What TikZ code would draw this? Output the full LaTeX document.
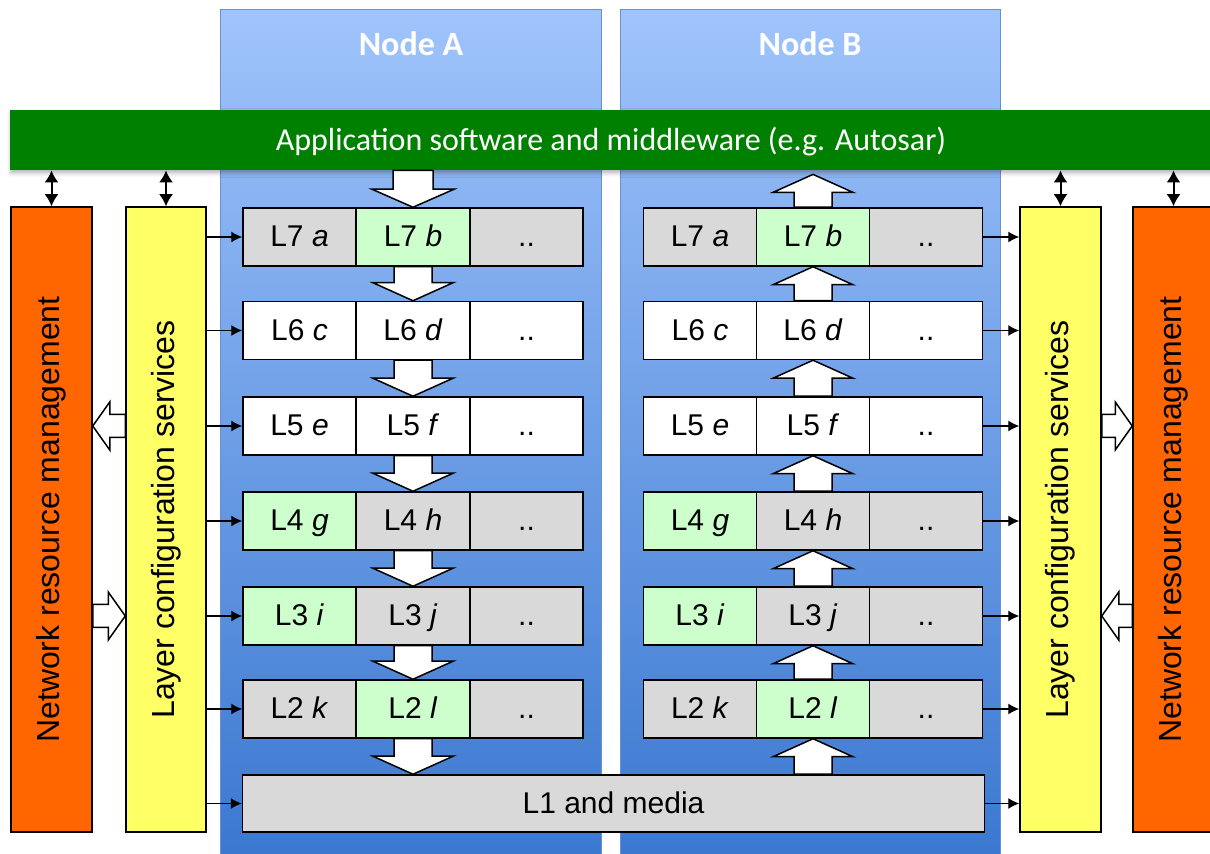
\documentclass[tikz,border=0pt]{standalone}
\usepackage{fontspec}
\setmainfont{Liberation Sans}
\newfontfamily\carlito{Carlito}
\usepackage{graphicx}
\usepackage{tikz}
\usetikzlibrary{calc,arrows.meta,shadows.blur}

\definecolor{panelTop}{RGB}{160,196,252}
\definecolor{panelBot}{RGB}{58,120,208}
\definecolor{panelEdge}{RGB}{105,145,210}
\definecolor{appGreen}{RGB}{0,128,0}
\definecolor{nrmOrange}{RGB}{255,102,0}
\definecolor{lcsYellow}{RGB}{255,255,102}
\definecolor{cellGrey}{RGB}{217,217,217}
\definecolor{cellGreen}{RGB}{204,255,204}

% hollow block arrow: start, tip, shaft half width, head half width, head length
\newcommand{\blockarrow}[5]{%
  \coordinate (ba-s) at (#1);
  \coordinate (ba-t) at (#2);
  \coordinate (ba-h) at ($(ba-t)!#5!(ba-s)$);
  \draw[blockarr] ($(ba-s)!#3!90:(ba-t)$) -- ($(ba-h)!#3!90:(ba-t)$) -- ($(ba-h)!#4!90:(ba-t)$)
    -- (ba-t) -- ($(ba-h)!#4!-90:(ba-t)$) -- ($(ba-h)!#3!-90:(ba-t)$) -- ($(ba-s)!#3!-90:(ba-t)$) -- cycle;
}

\begin{document}
\begin{tikzpicture}[x=0.5pt,y=-0.5pt]
\tikzstyle{panel}=[draw=panelEdge,line width=0.5pt,top color=panelTop,bottom color=panelBot,minimum height=424pt,inner sep=0pt]
\tikzstyle{cell}=[draw=black,line width=0.75pt,minimum width=56.5pt,minimum height=29pt,inner sep=0pt,text height=11pt,text depth=1pt,font=\fontsize{15}{18}\selectfont]
\tikzstyle{greycell}=[cell,fill=cellGrey]
\tikzstyle{greencell}=[cell,fill=cellGreen]
\tikzstyle{whitecell}=[cell,fill=white]
\tikzstyle{sidebox}=[draw=black,line width=0.75pt,minimum width=40.5pt,minimum height=312.5pt,inner sep=0pt,font=\fontsize{16}{19}\selectfont]
\tikzstyle{blockarr}=[draw=black,fill=white,line width=0.75pt,line join=miter]
\tikzstyle{sarr}=[->,>={Latex[length=5.5pt,width=5.5pt]},line width=0.6pt]
\tikzstyle{dblarr}=[<->,>={Latex[length=6pt,width=7pt]},line width=1pt]
\useasboundingbox (0,0) rectangle (1210,854);

% Node panels
\node (NA) [panel,minimum width=190.5pt] at (410.5,434) {};
\node (NB) [panel,minimum width=190pt] at (810,434) {};
\node (NAtitle) at (411,44) {\carlito\bfseries\fontsize{17}{20}\selectfont\color{white}Node A};
\node (NBtitle) at (810,44) {\carlito\bfseries\fontsize{17}{20}\selectfont\color{white}Node B};

% Application bar
\node (app) [fill=appGreen,minimum width=601pt,minimum height=30pt,inner sep=0pt,text height=11pt,text depth=0pt,
  blur shadow={shadow xshift=0.5pt,shadow yshift=-1.5pt,shadow opacity=30,shadow blur steps=5}]
  at (611,140) {\carlito\fontsize{16}{19}\selectfont\color{white}Application software and middleware (e.g. Autosar)};

% Side boxes
\node (NRML) [sidebox,fill=nrmOrange] at (51.5,519.5) {\rotatebox{90}{Network resource management}};
\node (LCSL) [sidebox,fill=lcsYellow,minimum width=40pt] at (166,519.5) {\rotatebox{90}{Layer configuration services}};
\node (LCSR) [sidebox,fill=lcsYellow] at (1060.5,519.5) {\rotatebox{90}{Layer configuration services}};
\node (NRMR) [sidebox,fill=nrmOrange] at (1173.5,519.5) {\rotatebox{90}{Network resource management}};

% Node A layers
\node (NAL7a) [greycell] at (299.5,237) {L7 \textit{a}};
\node (NAL7b) [greencell] at (413,237) {L7 \textit{b}};
\node (NAL7c) [greycell] at (526.5,237) {..};
\node (NAL6a) [whitecell] at (299.5,330.5) {L6 \textit{c}};
\node (NAL6b) [whitecell] at (413,330.5) {L6 \textit{d}};
\node (NAL6c) [whitecell] at (526.5,330.5) {..};
\node (NAL5a) [whitecell] at (299.5,426) {L5 \textit{e}};
\node (NAL5b) [whitecell] at (413,426) {L5 \textit{f}};
\node (NAL5c) [whitecell] at (526.5,426) {..};
\node (NAL4a) [greencell] at (299.5,521) {L4 \textit{g}};
\node (NAL4b) [greycell] at (413,521) {L4 \textit{h}};
\node (NAL4c) [greycell] at (526.5,521) {..};
\node (NAL3a) [greencell] at (299.5,616) {L3 \textit{i}};
\node (NAL3b) [greycell] at (413,616) {L3 \textit{j}};
\node (NAL3c) [greycell] at (526.5,616) {..};
\node (NAL2a) [greycell] at (299.5,709) {L2 \textit{k}};
\node (NAL2b) [greencell] at (413,709) {L2 \textit{l}};
\node (NAL2c) [greycell] at (526.5,709) {..};

% Node B layers
\node (NBL7a) [greycell] at (700,237) {L7 \textit{a}};
\node (NBL7b) [greencell] at (813,237) {L7 \textit{b}};
\node (NBL7c) [greycell] at (926,237) {..};
\node (NBL6a) [whitecell] at (700,330.5) {L6 \textit{c}};
\node (NBL6b) [whitecell] at (813,330.5) {L6 \textit{d}};
\node (NBL6c) [whitecell] at (926,330.5) {..};
\node (NBL5a) [whitecell] at (700,426) {L5 \textit{e}};
\node (NBL5b) [whitecell] at (813,426) {L5 \textit{f}};
\node (NBL5c) [whitecell] at (926,426) {..};
\node (NBL4a) [greencell] at (700,521) {L4 \textit{g}};
\node (NBL4b) [greycell] at (813,521) {L4 \textit{h}};
\node (NBL4c) [greycell] at (926,521) {..};
\node (NBL3a) [greencell] at (700,616) {L3 \textit{i}};
\node (NBL3b) [greycell] at (813,616) {L3 \textit{j}};
\node (NBL3c) [greycell] at (926,616) {..};
\node (NBL2a) [greycell] at (700,709) {L2 \textit{k}};
\node (NBL2b) [greencell] at (813,709) {L2 \textit{l}};
\node (NBL2c) [greycell] at (926,709) {..};

% Shared physical layer
\node (L1) [greycell,minimum width=371pt,minimum height=28.5pt] at (613.5,803.5) {L1 and media};

% Data flow down Node A, up Node B
\blockarrow{app.south -| NAL7b}{NAL7b.north}{10pt}{20.5pt}{9pt}
\blockarrow{NAL7b.south}{NAL6b.north}{9.5pt}{20pt}{9pt}
\blockarrow{NAL6b.south}{NAL5b.north}{9.5pt}{20pt}{9pt}
\blockarrow{NAL5b.south}{NAL4b.north}{9.5pt}{20pt}{9pt}
\blockarrow{NAL4b.south}{NAL3b.north}{9.5pt}{20pt}{9pt}
\blockarrow{NAL3b.south}{NAL2b.north}{9.5pt}{20pt}{9pt}
\blockarrow{NAL2b.south}{L1.north -| NAL2b}{9.5pt}{20pt}{9pt}
\blockarrow{L1.north -| NBL2b}{NBL2b.south}{9.5pt}{20pt}{9pt}
\blockarrow{NBL2b.north}{NBL3b.south}{9.5pt}{20pt}{9pt}
\blockarrow{NBL3b.north}{NBL4b.south}{9.5pt}{20pt}{9pt}
\blockarrow{NBL4b.north}{NBL5b.south}{9.5pt}{20pt}{9pt}
\blockarrow{NBL5b.north}{NBL6b.south}{9.5pt}{20pt}{9pt}
\blockarrow{NBL6b.north}{NBL7b.south}{9.5pt}{20pt}{9pt}
\blockarrow{NBL7b.north}{$(app.south -| NBL7b)+(0,4)$}{9.5pt}{20pt}{9pt}

% Management <-> configuration
\blockarrow{LCSL.west |- NAL5a}{NRML.east |- NAL5a}{5.75pt}{12pt}{8.5pt}
\blockarrow{NRML.east |- NAL3a}{LCSL.west |- NAL3a}{5.75pt}{12pt}{8.5pt}
\blockarrow{LCSR.east |- NBL5c}{NRMR.west |- NBL5c}{5.75pt}{12pt}{8.5pt}
\blockarrow{NRMR.west |- NBL3c}{LCSR.east |- NBL3c}{5.75pt}{12pt}{8.5pt}

% Links to the application bar
\draw[dblarr] (app.south -| NRML.north) -- (NRML.north);
\draw[dblarr] (app.south -| LCSL.north) -- (LCSL.north);
\draw[dblarr] (app.south -| LCSR.north) -- (LCSR.north);
\draw[dblarr] (app.south -| NRMR.north) -- (NRMR.north);

% Configuration of each layer
\draw[sarr] (LCSL.east |- NAL7a.west) -- (NAL7a.west);
\draw[sarr] (LCSL.east |- NAL6a.west) -- (NAL6a.west);
\draw[sarr] (LCSL.east |- NAL5a.west) -- (NAL5a.west);
\draw[sarr] (LCSL.east |- NAL4a.west) -- (NAL4a.west);
\draw[sarr] (LCSL.east |- NAL3a.west) -- (NAL3a.west);
\draw[sarr] (LCSL.east |- NAL2a.west) -- (NAL2a.west);
\draw[sarr] (LCSL.east |- L1.west) -- (L1.west);
\draw[sarr] (NBL7c.east) -- (LCSR.west |- NBL7c.east);
\draw[sarr] (NBL6c.east) -- (LCSR.west |- NBL6c.east);
\draw[sarr] (NBL5c.east) -- (LCSR.west |- NBL5c.east);
\draw[sarr] (NBL4c.east) -- (LCSR.west |- NBL4c.east);
\draw[sarr] (NBL3c.east) -- (LCSR.west |- NBL3c.east);
\draw[sarr] (NBL2c.east) -- (LCSR.west |- NBL2c.east);
\draw[sarr] (L1.east) -- (LCSR.west |- L1.east);
\end{tikzpicture}
\end{document}
